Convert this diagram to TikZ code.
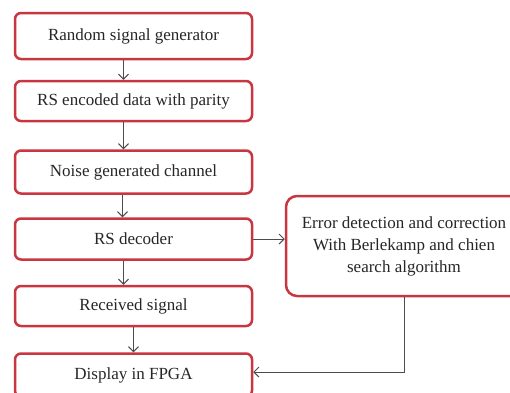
\documentclass[tikz,border=0pt]{standalone}
\usepackage{fontspec}
\setmainfont{Liberation Serif}
\usetikzlibrary{arrows.meta}
\definecolor{boxred}{RGB}{200,55,65}
\colorlet{flowgray}{black!70}
\tikzstyle{blk}=[draw=boxred,line width=2.5pt,rounded corners=6pt,minimum width=237pt,minimum height=43pt,inner sep=2pt,text=black!85,font=\fontsize{17}{22}\selectfont]
\tikzstyle{bigblk}=[blk,rounded corners=11pt,align=center,minimum width=236pt,minimum height=100pt]
\tikzstyle{flow}=[draw=flowgray,line width=1pt,-{Straight Barb[length=5pt,width=10pt]}]
\begin{document}
\begin{tikzpicture}[x=1pt,y=1pt]
	\useasboundingbox (0,0) rectangle (510,-392);
	% main chain
	\node[blk,minimum height=46pt] (gen) at (133.5,-36)  {Random signal generator};
	\node[blk,minimum height=40pt] (enc) at (133.5,-101) {RS encoded data with parity};
	\node[blk]                     (chn) at (133.5,-172) {Noise generated channel};
	\node[blk,minimum height=41pt] (dec) at (133.5,-239) {RS decoder};
	\node[blk,minimum height=40pt] (rcv) at (133.5,-306) {Received signal};
	\node[blk]                     (dsp) at (133.5,-375) {Display in FPGA};
	% side block
	\node[bigblk] (err) at (404,-246) {Error detection and correction\\With Berlekamp and chien\\search algorithm};
	\draw[flow] ([xshift=-10pt]gen.south) -- ([xshift=-10pt]enc.north);
	\draw[flow] ([xshift=-10pt]enc.south) -- ([xshift=-10pt]chn.north);
	\draw[flow] ([xshift=-11pt]chn.south) -- ([xshift=-11pt]dec.north);
	\draw[flow] ([xshift=-10pt]dec.south) -- ([xshift=-10pt]rcv.north);
	\draw[flow] (rcv.south) -- (dsp.north);
	\draw[flow] (dec.east) -- (dec.east -| err.west);
	\draw[flow] (err.south) |- ([yshift=3pt]dsp.east);
\end{tikzpicture}
\end{document}
